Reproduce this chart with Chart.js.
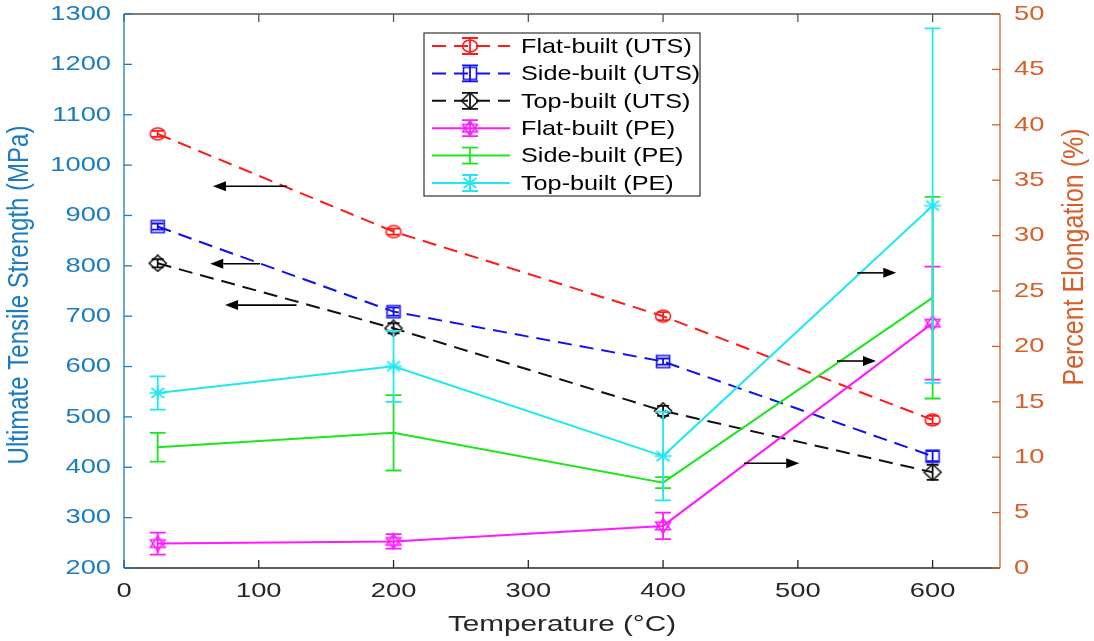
<!DOCTYPE html>
<html><head><meta charset="utf-8">
<script src="https://cdn.jsdelivr.net/npm/chart.js@4"></script>
<style>html,body{margin:0;padding:0;background:#fff}#wrap{width:1094px;height:641px;position:relative}</style>
</head><body><div id="wrap"><canvas id="c" width="1094" height="641"></canvas></div>
<script>
// ---------------- data ----------------
const temps = [25, 200, 400, 600];
const flatUTS = [1062, 868, 700, 494];
const sideUTS = [878, 709, 610, 422];
const topUTS = [805, 676, 512, 390];
const flatUTSErr = [6, 6, 8, 8];
const sideUTSErr = [6, 8, 6, 10];
const topUTSErr = [8, 10, 10, 15];
const flatPE = [2.2, 2.4, 3.8, 22.1];
const sidePE = [10.9, 12.2, 7.7, 24.4];
const topPE = [15.8, 18.2, 10.1, 32.7];
const flatPEErr = [1.0, 0.65, 1.2, 5.1];
const sidePEErr = [1.3, 3.4, 0.5, 9.1];
const topPEErr = [1.5, 3.2, 4.0, 16.0];
const seriesLabels = ['Flat-built (UTS)', 'Side-built (UTS)', 'Top-built (UTS)', 'Flat-built (PE)', 'Side-built (PE)', 'Top-built (PE)'];
const xTitle = 'Temperature (°C)';
const yLeftTitle = 'Ultimate Tensile Strength (MPa)';
const yRightTitle = 'Percent Elongation (%)';
// annotation arrows (tail x, head x, y in MPa)
const arrowTails = [121, 101, 128, 544, 529, 460];
const arrowHeads = [66, 64, 75, 573, 558, 501];
const arrowLevels = [958, 804, 722, 786, 611, 408];

// ---------------- style ----------------
const SX = 1.3;            // horizontal stretch of the reference image
const FONT = '"Liberation Sans", Arial, sans-serif';
const BLUE_AX = '#1b7cc0', ORANGE_AX = '#d65f2a', GRAY_AX = '#262626';

function makeMarker(kind, color) {
  const c = document.createElement('canvas');
  c.width = 22; c.height = 18;
  const g = c.getContext('2d');
  g.strokeStyle = color; g.lineWidth = 1.6;
  const cx = 11, cy = 9;
  g.beginPath();
  if (kind === 'circle') {
    g.ellipse(cx, cy, 7.5, 6, 0, 0, Math.PI * 2);
  } else if (kind === 'square') {
    g.rect(cx - 6.5, cy - 6, 13, 12);
  } else if (kind === 'diamond') {
    g.moveTo(cx, cy - 8); g.lineTo(cx + 8.5, cy); g.lineTo(cx, cy + 8); g.lineTo(cx - 8.5, cy); g.closePath();
  } else if (kind === 'asterisk') {
    g.moveTo(cx, cy - 7); g.lineTo(cx, cy + 7);
    g.moveTo(cx - 8.5, cy); g.lineTo(cx + 8.5, cy);
    g.moveTo(cx - 6.5, cy - 5); g.lineTo(cx + 6.5, cy + 5);
    g.moveTo(cx - 6.5, cy + 5); g.lineTo(cx + 6.5, cy - 5);
  } else if (kind === 'hexagram') {
    const rx = 8.5, ry = 7.5;
    for (let t = 0; t < 2; t++) {
      for (let k = 0; k < 3; k++) {
        const a = -Math.PI / 2 + t * Math.PI + k * 2 * Math.PI / 3;
        const px = cx + rx * Math.cos(a), py = cy + ry * Math.sin(a);
        if (k === 0) g.moveTo(px, py); else g.lineTo(px, py);
      }
      g.closePath();
    }
  }
  g.stroke();
  return c;
}

const specs = [
  {label: seriesLabels[0], data: flatUTS, err: flatUTSErr, axis: 'yL', color: '#ff1a1a', dash: [14, 8], marker: 'circle', cap: 6},
  {label: seriesLabels[1], data: sideUTS, err: sideUTSErr, axis: 'yL', color: '#1010ee', dash: [14, 8], marker: 'square', cap: 6},
  {label: seriesLabels[2], data: topUTS, err: topUTSErr, axis: 'yL', color: '#111111', dash: [14, 8], marker: 'diamond', cap: 6},
  {label: seriesLabels[3], data: flatPE, err: flatPEErr, axis: 'yR', color: '#ff1aff', dash: [], marker: 'hexagram', cap: 8},
  {label: seriesLabels[4], data: sidePE, err: sidePEErr, axis: 'yR', color: '#1ee61e', dash: [], marker: null, cap: 8},
  {label: seriesLabels[5], data: topPE, err: topPEErr, axis: 'yR', color: '#1fe8f2', dash: [], marker: 'asterisk', cap: 8},
];
specs.forEach(s => { s.img = s.marker ? makeMarker(s.marker, s.color) : null; });

const datasets = specs.map((s, i) => ({
  label: s.label,
  data: temps.map((t, k) => ({x: t, y: s.data[k]})),
  yAxisID: s.axis,
  borderColor: s.color,
  backgroundColor: s.color,
  borderWidth: 2,
  borderDash: s.dash,
  pointStyle: s.img || 'circle',
  pointRadius: s.img ? 6 : 0,
  pointHoverRadius: s.img ? 6 : 0,
  tension: 0,
  fill: false,
  order: 10 - i,
  clip: false
}));

function sText(ctx, text, x, y, align, font, color, sx) {
  ctx.save();
  ctx.translate(x, y);
  ctx.scale(sx, 1);
  ctx.font = font; ctx.fillStyle = color;
  ctx.textAlign = align; ctx.textBaseline = 'middle';
  ctx.fillText(text, 0, 0);
  ctx.restore();
}
function rText(ctx, text, x, y, font, color, sx) {
  ctx.save();
  ctx.translate(x, y);
  ctx.rotate(-Math.PI / 2);
  ctx.scale(1, sx);
  ctx.font = font; ctx.fillStyle = color;
  ctx.textAlign = 'center'; ctx.textBaseline = 'middle';
  ctx.fillText(text, 0, 0);
  ctx.restore();
}

function drawErr(ctx, x, yTop, yBot, cap, color) {
  ctx.save();
  ctx.strokeStyle = color; ctx.lineWidth = 1.8; ctx.setLineDash([]);
  ctx.beginPath();
  ctx.moveTo(x, yTop); ctx.lineTo(x, yBot);
  ctx.moveTo(x - cap, yTop); ctx.lineTo(x + cap, yTop);
  ctx.moveTo(x - cap, yBot); ctx.lineTo(x + cap, yBot);
  ctx.stroke();
  ctx.restore();
}

const matlabPlugin = {
  id: 'matlab',
  beforeDatasetsDraw(chart) {
    const {ctx, chartArea: a} = chart;
    ctx.save();
    ctx.fillStyle = '#ffffff';
    ctx.fillRect(a.left, a.top, a.right - a.left, a.bottom - a.top);
    ctx.restore();
  },
  afterDatasetDraw(chart, args) {
    const i = args.index, s = specs[i];
    const ctx = chart.ctx, ys = chart.scales[s.axis];
    const meta = args.meta;
    meta.data.forEach((pt, k) => {
      const yt = ys.getPixelForValue(s.data[k] + s.err[k]);
      const yb = ys.getPixelForValue(s.data[k] - s.err[k]);
      drawErr(ctx, pt.x, yt, yb, s.cap, s.color);
    });
  },
  afterDatasetsDraw(chart) {
    const {ctx, chartArea: a, scales} = chart;
    const xs = scales.x, yl = scales.yL, yr = scales.yR;
    // arrows
    ctx.save();
    ctx.strokeStyle = '#000'; ctx.fillStyle = '#000'; ctx.lineWidth = 1.6;
    arrowLevels.forEach((lv, k) => {
      const y = yl.getPixelForValue(lv);
      const x1 = xs.getPixelForValue(arrowTails[k]);
      const x2 = xs.getPixelForValue(arrowHeads[k]);
      const dir = Math.sign(x2 - x1);
      const hl = 13, hw = 5;
      ctx.beginPath(); ctx.moveTo(x1, y); ctx.lineTo(x2 - dir * hl, y); ctx.stroke();
      ctx.beginPath(); ctx.moveTo(x2, y); ctx.lineTo(x2 - dir * hl, y - hw); ctx.lineTo(x2 - dir * hl, y + hw); ctx.closePath(); ctx.fill();
    });
    ctx.restore();

    // axes box
    const TL = 8;
    ctx.save();
    ctx.lineWidth = 1.3;
    ctx.strokeStyle = GRAY_AX;
    ctx.beginPath(); ctx.moveTo(a.left, a.bottom); ctx.lineTo(a.right, a.bottom); ctx.stroke();
    ctx.strokeStyle = '#555';
    ctx.beginPath(); ctx.moveTo(a.left, a.top); ctx.lineTo(a.right, a.top); ctx.stroke();
    xs.ticks.forEach(t => {
      const x = xs.getPixelForValue(t.value);
      ctx.strokeStyle = GRAY_AX;
      ctx.beginPath(); ctx.moveTo(x, a.bottom); ctx.lineTo(x, a.bottom - TL); ctx.stroke();
      ctx.strokeStyle = '#555';
      ctx.beginPath(); ctx.moveTo(x, a.top); ctx.lineTo(x, a.top + TL); ctx.stroke();
      sText(ctx, String(t.value), x, a.bottom + 23, 'center', '21px ' + FONT, GRAY_AX, SX);
    });
    ctx.strokeStyle = BLUE_AX;
    ctx.beginPath(); ctx.moveTo(a.left, a.top); ctx.lineTo(a.left, a.bottom); ctx.stroke();
    yl.ticks.forEach(t => {
      const y = yl.getPixelForValue(t.value);
      ctx.beginPath(); ctx.moveTo(a.left, y); ctx.lineTo(a.left + TL, y); ctx.stroke();
      sText(ctx, String(t.value), a.left - 13, y, 'right', '21px ' + FONT, BLUE_AX, SX);
    });
    ctx.strokeStyle = ORANGE_AX;
    ctx.beginPath(); ctx.moveTo(a.right, a.top); ctx.lineTo(a.right, a.bottom); ctx.stroke();
    yr.ticks.forEach(t => {
      const y = yr.getPixelForValue(t.value);
      ctx.beginPath(); ctx.moveTo(a.right, y); ctx.lineTo(a.right - TL, y); ctx.stroke();
      sText(ctx, String(t.value), a.right + 14, y, 'left', '21px ' + FONT, ORANGE_AX, SX);
    });
    ctx.restore();

    // titles
    sText(ctx, xTitle, (a.left + a.right) / 2, a.bottom + 57, 'center', '22px ' + FONT, GRAY_AX, 1.35);
    rText(ctx, yLeftTitle, 20, 295, '24px ' + FONT, BLUE_AX, 1.2);
    rText(ctx, yRightTitle, 1075, 257, '25px ' + FONT, ORANGE_AX, 1.2);

    // legend
    const lx = 424, ly = 33, lw = 276, lh = 163, rowH = 27.4;
    ctx.save();
    ctx.fillStyle = '#fff'; ctx.fillRect(lx, ly, lw, lh);
    ctx.strokeStyle = '#333'; ctx.lineWidth = 1.2; ctx.strokeRect(lx, ly, lw, lh);
    specs.forEach((s, i) => {
      const y = ly + 13 + i * rowH;
      ctx.save();
      ctx.strokeStyle = s.color; ctx.lineWidth = 2;
      ctx.setLineDash(s.dash);
      ctx.beginPath(); ctx.moveTo(432, y); ctx.lineTo(510, y); ctx.stroke();
      ctx.restore();
      drawErr(ctx, 470, y - 8, y + 8, 8, s.color);
      if (s.img) ctx.drawImage(s.img, 470 - s.img.width / 2, y - s.img.height / 2);
      sText(ctx, s.label, 521, y + 1, 'left', '21px ' + FONT, '#000', 1.2);
    });
    ctx.restore();
  }
};

new Chart(document.getElementById('c'), {
  type: 'line',
  data: {datasets},
  options: {
    responsive: false,
    animation: false,
    events: [],
    layout: {padding: {top: 14, left: 0, right: 0, bottom: 0}},
    plugins: {legend: {display: false}, tooltip: {enabled: false}},
    scales: {
      x: {type: 'linear', min: 0, max: 650, ticks: {stepSize: 100, includeBounds: false, display: false}, grid: {display: false}, border: {display: false},
          afterFit: s => { s.height = 73; }},
      yL: {type: 'linear', position: 'left', min: 200, max: 1300, ticks: {stepSize: 100, display: false}, grid: {display: false}, border: {display: false},
          afterFit: s => { s.width = 124; }},
      yR: {type: 'linear', position: 'right', min: 0, max: 50, ticks: {stepSize: 5, display: false}, grid: {display: false}, border: {display: false},
          afterFit: s => { s.width = 94; }}
    }
  },
  plugins: [matlabPlugin]
});
</script>
</body></html>
